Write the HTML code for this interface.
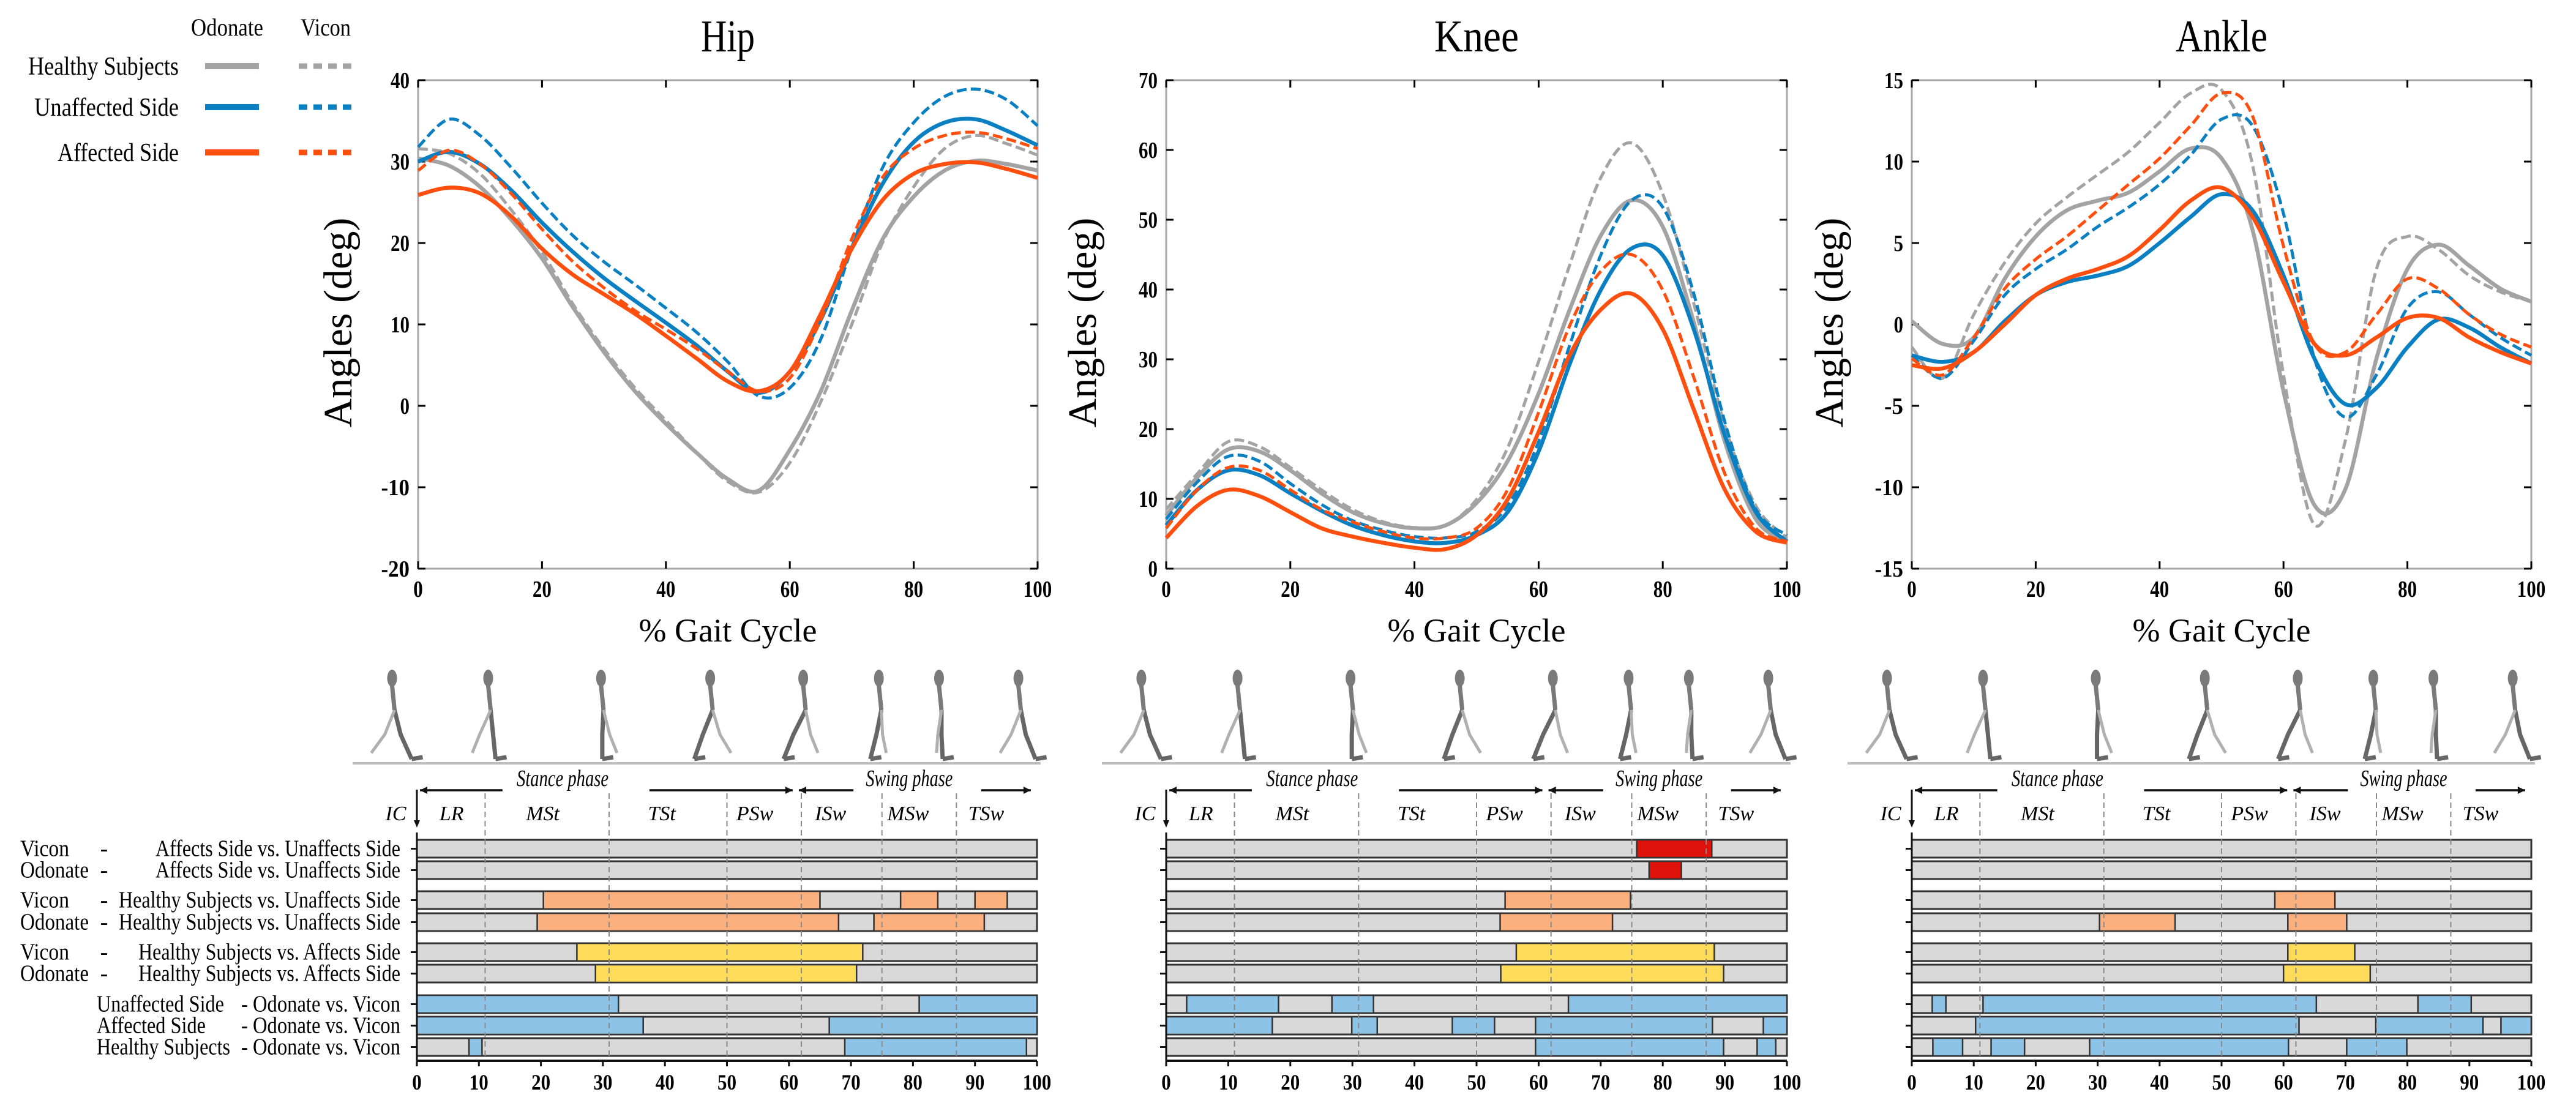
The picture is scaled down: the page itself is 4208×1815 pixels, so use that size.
<!DOCTYPE html>
<html><head><meta charset="utf-8"><style>
html,body{margin:0;padding:0;background:#fff;}
svg{display:block;font-family:"Liberation Serif",serif;}
</style></head><body>
<svg id="fig" width="4208" height="1815" viewBox="0 0 4208 1815" xmlns="http://www.w3.org/2000/svg"></svg>
<script>
// ---------- data ----------
const gaitX = [0,5,10,15,20,25,30,35,40,45,50,55,60,65,70,75,80,85,90,95,100];
const seriesNames = ['healthy-odonate','healthy-vicon','unaffected-odonate','unaffected-vicon','affected-odonate','affected-vicon'];
const hipHealthyOdonate = [30.4,29.5,26.9,22.9,18.1,12.1,6.6,1.8,-2.2,-5.8,-9,-10.4,-5.4,1.8,11.7,20.5,25.7,28.9,30.1,29.7,28.9];
const hipHealthyVicon = [31.6,31,28.5,24.1,18.9,12.5,7,2.2,-1.8,-5.8,-9.3,-10.6,-7,0.5,10,20.1,26.9,31.6,33.2,32.2,30.8];
const hipUnaffOdonate = [30,31.2,29.7,26.5,22.5,18.9,15.7,12.9,10.2,7.4,4.2,1.6,4.2,10.6,19.4,27.3,32.4,34.8,35.2,33.8,32];
const hipUnaffVicon = [31.8,35.2,33.2,29.3,24.9,20.9,17.7,14.9,12,9,5.4,1.2,2.2,8.2,19.4,29.3,34.8,38,38.9,37.6,34.4];
const hipAffOdonate = [25.9,26.8,26.1,23.3,19.3,16.1,13.7,11.3,8.6,5.8,3,1.8,4.2,11.3,19.3,25.3,28.5,29.7,29.9,29.1,28];
const hipAffVicon = [28.9,31.4,29.7,26.1,21.7,17.7,14.5,11.7,9.4,7,4.2,1.8,3.4,10.6,20.5,28.1,31.6,33.2,33.6,32.8,31.6];
const kneeHealthyOdonate = [7.6,13.1,17.1,16.8,14.1,10.8,8.1,6.5,5.8,6.2,9.4,15.4,25.1,37.1,47.7,52.8,49,35.3,18.2,7.1,3.9];
const kneeHealthyVicon = [8.5,13.6,18.2,17.5,14.5,11.3,8.5,6.7,5.9,6.2,9.9,17.3,29.7,43.5,56,61,53.7,38,20.5,9,4.4];
const kneeUnaffOdonate = [6.2,11.3,14.1,13.4,10.8,8.3,6.2,4.8,3.9,3.7,4.8,8.1,16.8,29.3,39.9,45.9,44.9,34.3,19.1,8.1,3.9];
const kneeUnaffVicon = [7.1,12.4,16.1,15.4,12.2,9.2,6.9,5.5,4.6,4.4,5.3,9,18.2,32,44.9,52.8,51.8,39.4,21,8.5,4.8];
const kneeAffOdonate = [4.4,9,11.3,10.4,8.1,5.8,4.6,3.7,3,2.8,4.8,9.9,19.6,30.6,37.1,39.4,34.3,22.8,11.3,5.3,3.7];
const kneeAffVicon = [5.8,11.3,14.5,14.1,11.3,8.5,6.7,5.3,4.4,4.4,5.8,11.3,22.4,34.8,42.6,45,39.9,27.4,13.6,5.8,3.9];
const ankleHealthyOdonate = [0.2,-1.2,-0.8,2.8,5.4,7,7.6,8.1,9.4,10.8,10.2,5.8,-4.1,-11.1,-10.1,-2.1,3.4,4.9,3.6,2.2,1.4];
const ankleHealthyVicon = [-1.4,-3.3,0.6,3.8,6.2,7.8,9.2,10.6,12.4,14.2,14.4,9.8,-3.1,-12.3,-7.1,3.4,5.4,4.6,3,2,1.4];
const ankleUnaffOdonate = [-1.9,-2.3,-1.7,0.2,1.8,2.6,3,3.6,5,6.6,8,7,3,-2.1,-4.9,-3.9,-1.4,0.3,-0.2,-1.4,-2.4];
const ankleUnaffVicon = [-1.9,-3.3,-1,1.8,3.4,4.6,6,7.2,8.6,10.4,12.6,12.2,6.8,-2.1,-5.7,-3.1,1,2,0.6,-0.8,-1.9];
const ankleAffOdonate = [-2.5,-2.7,-1.7,0,1.8,2.8,3.4,4.2,5.8,7.6,8.4,6.6,2.6,-1.2,-1.9,-0.8,0.4,0.4,-0.8,-1.7,-2.4];
const ankleAffVicon = [-2.1,-3.1,-0.8,2.2,4,5.4,7,8.6,10.2,12.2,14.2,12.8,4.8,-1.2,-1.7,0.6,2.8,2.2,0.6,-0.6,-1.4];
const hipYTicks = [-20,-10,0,10,20,30,40];
const kneeYTicks = [0,10,20,30,40,50,60,70];
const ankleYTicks = [-15,-10,-5,0,5,10,15];
const xTicks = [0,20,40,60,80,100];
const barTicks = [0,10,20,30,40,50,60,70,80,90,100];
const phaseBounds = [11,31,50,62,75,87];
const phaseLabels = ['LR','MSt','TSt','PSw','ISw','MSw','TSw'];
const phaseLabelPos = [5.6,20.3,39.5,54.5,66.7,79.2,91.8];
const rowColors = ['#e0120c','#e0120c','#fcb07e','#fcb07e','#fedc5a','#fedc5a','#8ec3e8','#8ec3e8','#8ec3e8'];
const hipSegments = [[],[],[[20.4,65],[78,84],[90,95.2]],[[19.4,68],[73.7,91.5]],[[25.8,71.9]],[[28.8,70.9]],[[0,32.5],[81,100]],[[0,36.5],[66.5,100]],[[8.4,10.5],[69,98.3]]];
const kneeSegments = [[[75.8,87.9]],[[77.8,83]],[[54.6,74.8]],[[53.8,71.9]],[[56.4,88.3]],[[53.9,89.8]],[[3.3,18.1],[26.7,33.4],[64.8,100]],[[0,17.1],[29.9,34],[46.1,52.9],[59.5,88],[96.2,100]],[[59.5,89.8],[95.2,98.2]]];
const ankleSegments = [[],[],[[58.6,68.3]],[[30.3,42.5],[60.7,70.2]],[[60.7,71.5]],[[60,74]],[[3.3,5.5],[11.5,65.3],[81.7,90.3]],[[10.3,62.5],[74.9,92.2],[95.1,100]],[[3.4,8.2],[12.8,18.2],[28.7,60.8],[70.2,79.9]]];

// ---------- helpers ----------
const NS='http://www.w3.org/2000/svg';
const svg=document.getElementById('fig');
function mk(tag,attrs,parent){const e=document.createElementNS(NS,tag);for(const k in attrs)e.setAttribute(k,attrs[k]);(parent||svg).appendChild(e);return e;}
function txt(s,attrs,parent){const e=mk('text',attrs,parent);e.textContent=s;return e;}
function smooth(pts){let d='M'+pts[0][0].toFixed(1)+','+pts[0][1].toFixed(1);
 for(let i=0;i<pts.length-1;i++){const p0=pts[i-1]||pts[i],p1=pts[i],p2=pts[i+1],p3=pts[i+2]||p2;
  const c1=[p1[0]+(p2[0]-p0[0])/6,p1[1]+(p2[1]-p0[1])/6],c2=[p2[0]-(p3[0]-p1[0])/6,p2[1]-(p3[1]-p1[1])/6];
  d+=' C'+c1[0].toFixed(1)+','+c1[1].toFixed(1)+' '+c2[0].toFixed(1)+','+c2[1].toFixed(1)+' '+p2[0].toFixed(1)+','+p2[1].toFixed(1);}
 return d;}
const COL={healthy:'#a3a3a3',unaff:'#0a80c2',aff:'#ff4f0f'};
const styles=[[COL.healthy,0],[COL.healthy,1],[COL.unaff,0],[COL.unaff,1],[COL.aff,0],[COL.aff,1]];
function numLabel(s,attrs,g){attrs.textLength=s.length*15.5;attrs.lengthAdjust='spacingAndGlyphs';return txt(s,attrs,g);}

// ---------- legend ----------
const lg=mk('g',{});


txt('Odonate',{x:371,y:58,'font-size':40,'text-anchor':'middle',textLength:118,lengthAdjust:'spacingAndGlyphs'},lg);
txt('Vicon',{x:532,y:58,'font-size':40,'text-anchor':'middle',textLength:82,lengthAdjust:'spacingAndGlyphs'},lg);
[['Healthy Subjects',108,COL.healthy,246],['Unaffected Side',175,COL.unaff,236],['Affected Side',249,COL.aff,198]].forEach(r=>{
 const g=mk('g',{},lg);
 
 
 txt(r[0],{x:292,y:r[1]+14,'font-size':42,'text-anchor':'end',textLength:r[3],lengthAdjust:'spacingAndGlyphs'},g);
 mk('line',{x1:335,x2:423,y1:r[1],y2:r[1],stroke:r[2],'stroke-width':10},g);
 mk('line',{x1:488,x2:574,y1:r[1],y2:r[1],stroke:r[2],'stroke-width':9,'stroke-dasharray':'14 10'},g);
});

// ---------- top line charts ----------
function lineChart(name,title,x0,x1,ymin,ymax,yticks,series,tw,axisTitleX){
 const top=131,bot=929;
 const g=mk('g',{});
 
 
 const sx=v=>x0+(v/100)*(x1-x0), sy=v=>bot-(v-ymin)/(ymax-ymin)*(bot-top);
 const t=txt(title,{x:(x0+x1)/2,y:84,'font-size':74,'text-anchor':'middle',textLength:tw,lengthAdjust:'spacingAndGlyphs'},g);
 
 
 mk('rect',{x:x0,y:top,width:x1-x0,height:bot-top,fill:'none',stroke:'#a8a8a8','stroke-width':3},g);
 yticks.forEach(v=>{const y=sy(v);
  mk('line',{x1:x0,x2:x0+12,y1:y,y2:y,stroke:'#000','stroke-width':3},g);
  mk('line',{x1:x1-12,x2:x1,y1:y,y2:y,stroke:'#000','stroke-width':3},g);
  const l=numLabel(String(v),{x:x0-14,y:y+13,'font-size':38,'font-weight':'bold','text-anchor':'end'},g);
  
  
 });
 xTicks.forEach(v=>{const x=sx(v);
  mk('line',{x1:x,x2:x,y1:bot,y2:bot-12,stroke:'#000','stroke-width':3},g);
  mk('line',{x1:x,x2:x,y1:top,y2:top+12,stroke:'#000','stroke-width':3},g);
  const l=numLabel(String(v),{x:x,y:bot+46,'font-size':38,'font-weight':'bold','text-anchor':'middle'},g);
  
  
 });
 const yt=txt('Angles (deg)',{x:0,y:0,'font-size':66,'text-anchor':'middle',transform:'translate('+(axisTitleX)+',527) rotate(-90)'},g);
 
 
 const xt=txt('% Gait Cycle',{x:(x0+x1)/2,y:1048,'font-size':54,'text-anchor':'middle'},g);
 
 
 series.forEach((vals,i)=>{
  const pts=gaitX.map((x,j)=>[sx(x),sy(vals[j])]);
  const p=mk('path',{d:smooth(pts),fill:'none',stroke:styles[i][0],'stroke-width':styles[i][1]?5:6.5,'stroke-dasharray':styles[i][1]?'16 7':'none'},g);
  
  
 });
}
lineChart('hip','Hip',683,1695,-20,40,hipYTicks,[hipHealthyOdonate,hipHealthyVicon,hipUnaffOdonate,hipUnaffVicon,hipAffOdonate,hipAffVicon],88,574);
lineChart('knee','Knee',1905,2919,0,70,kneeYTicks,[kneeHealthyOdonate,kneeHealthyVicon,kneeUnaffOdonate,kneeUnaffVicon,kneeAffOdonate,kneeAffVicon],138,1790);
lineChart('ankle','Ankle',3123,4135,-15,15,ankleYTicks,[ankleHealthyOdonate,ankleHealthyVicon,ankleUnaffOdonate,ankleUnaffVicon,ankleAffOdonate,ankleAffVicon],150,3010);

// ---------- row labels ----------
const rowTops=[1372,1407,1456,1492,1541,1576,1626,1661,1696];
const BH=29;
const rl=mk('g',{});


const leftLabels=[['Vicon','Affects Side vs. Unaffects Side',400],['Odonate','Affects Side vs. Unaffects Side',400],['Vicon','Healthy Subjects vs. Unaffects Side',460],['Odonate','Healthy Subjects vs. Unaffects Side',460],['Vicon','Healthy Subjects vs. Affects Side',428],['Odonate','Healthy Subjects vs. Affects Side',428]];
leftLabels.forEach((r,i)=>{const y=rowTops[i]+BH/2+12;
 txt(r[0],{x:33,y:y,'font-size':38,textLength:r[0]==='Vicon'?80:112,lengthAdjust:'spacingAndGlyphs'},rl);
 txt('-',{x:170,y:y,'font-size':38,'text-anchor':'middle'},rl);
 txt(r[1],{x:654,y:y,'font-size':38,'text-anchor':'end',textLength:r[2],lengthAdjust:'spacingAndGlyphs'},rl);
});
[['Unaffected Side',208],['Affected Side',178],['Healthy Subjects',218]].forEach((r,k)=>{const y=rowTops[6+k]+BH/2+12;
 txt(r[0],{x:158,y:y,'font-size':38,textLength:r[1],lengthAdjust:'spacingAndGlyphs'},rl);
 txt('- Odonate vs. Vicon',{x:654,y:y,'font-size':38,'text-anchor':'end',textLength:260,lengthAdjust:'spacingAndGlyphs'},rl);
});

// ---------- skeleton figure ----------
function skeleton(g,cx,pose){
 const c='#7a7a7a';
 const hy=1108, hipY=1160, footY=1240;
 mk('ellipse',{cx:cx,cy:hy,rx:8,ry:14,fill:c},g);
 mk('line',{x1:cx,y1:hy+12,x2:cx+4,y2:hipY,stroke:c,'stroke-width':7},g);
 const [a1,k1,f1,a2,k2,f2]=pose;
 mk('polyline',{points:`${cx+4},${hipY} ${cx+k1},${hipY+40} ${cx+f1},${footY}`,fill:'none',stroke:'#666','stroke-width':7},g);
 mk('polyline',{points:`${cx+4},${hipY} ${cx+k2},${hipY+40} ${cx+f2},${footY-10}`,fill:'none',stroke:'#b0b0b0','stroke-width':5},g);
 mk('line',{x1:cx+f1,y1:footY,x2:cx+f1+18,y2:footY-3,stroke:'#666','stroke-width':7},g);
}
const poses=[[0,14,32,0,-12,-34],[0,8,12,0,-14,-26],[0,2,2,0,14,26],[0,-12,-26,0,16,34],[0,-16,-32,0,12,24],[0,-4,-14,0,6,12],[0,4,6,0,-2,-4],[0,12,28,0,-12,-30]];
const skelPos=[-4,11.5,29.7,47.3,62.3,74.5,84.2,97];

// ---------- bottom bar charts ----------
function barChart(name,x0,x1,segs){
 const g=mk('g',{});
 
 
 const sx=v=>x0+(v/100)*(x1-x0);
 const sk=mk('g',{},g);
 
 
 skelPos.forEach((p,i)=>skeleton(sk,sx(p),poses[i]));
 mk('line',{x1:x0-105,x2:x1+6,y1:1247,y2:1247,stroke:'#bdbdbd','stroke-width':4},g);
 txt('Stance phase',{x:sx(23.5),y:1284,'font-size':38,'font-style':'italic','text-anchor':'middle',textLength:150,lengthAdjust:'spacingAndGlyphs'},g);
 txt('Swing phase',{x:sx(79.4),y:1284,'font-size':38,'font-style':'italic','text-anchor':'middle',textLength:142,lengthAdjust:'spacingAndGlyphs'},g);
 const ay=1291;
 function arrow(a,b,dir){mk('line',{x1:sx(a),x2:sx(b),y1:ay,y2:ay,stroke:'#111','stroke-width':3.5},g);
  const hx=dir>0?sx(b):sx(a);mk('polygon',{points:`${hx},${ay} ${hx-dir*12},${ay-6} ${hx-dir*12},${ay+6}`,fill:'#111'},g);}
 arrow(0.5,13.8,-1);arrow(37.5,60.6,1);arrow(61.6,70.4,-1);arrow(91,99,1);
 mk('line',{x1:x0,x2:x0,y1:1290,y2:1345,stroke:'#111','stroke-width':3},g);
 mk('polygon',{points:`${x0},${1352} ${x0-5},${1340} ${x0+5},${1340}`,fill:'#111'},g);
 txt('IC',{x:sx(-3.4),y:1340,'font-size':34,'font-style':'italic','text-anchor':'middle'},g);
 phaseLabels.forEach((l,i)=>{const t=txt(l,{x:sx(phaseLabelPos[i]),y:1340,'font-size':34,'font-style':'italic','text-anchor':'middle'},g);
  
  });
 segs.forEach((row,i)=>{const y=rowTops[i];
  const r=mk('rect',{x:x0,y:y,width:x1-x0,height:BH,fill:'#d9d9d9',stroke:'#333','stroke-width':3},g);
  
  
  row.forEach(s=>{const b=mk('rect',{x:sx(s[0]),y:y,width:sx(s[1])-sx(s[0]),height:BH,fill:rowColors[i],stroke:'#333','stroke-width':2.5},g);
   
   });
  mk('line',{x1:x0-10,x2:x0,y1:y+BH/2,y2:y+BH/2,stroke:'#111','stroke-width':3},g);
 });
 phaseBounds.forEach(p=>mk('line',{x1:sx(p),x2:sx(p),y1:1296,y2:1730,stroke:'#8a8a8a','stroke-width':2,'stroke-dasharray':'9 6'},g));
 mk('line',{x1:x0,x2:x0,y1:1360,y2:1734,stroke:'#111','stroke-width':3},g);
 mk('line',{x1:x0,x2:x1,y1:1733,y2:1733,stroke:'#111','stroke-width':4},g);
 barTicks.forEach(v=>{const x=sx(v);mk('line',{x1:x,x2:x,y1:1733,y2:1742,stroke:'#111','stroke-width':3},g);
  const l=numLabel(String(v),{x:x,y:1780,'font-size':36,'font-weight':'bold','text-anchor':'middle'},g);
  
  });
}
barChart('hip',681,1694,hipSegments);
barChart('knee',1905,2919,kneeSegments);
barChart('ankle',3123,4135,ankleSegments);
</script>
</body></html>
